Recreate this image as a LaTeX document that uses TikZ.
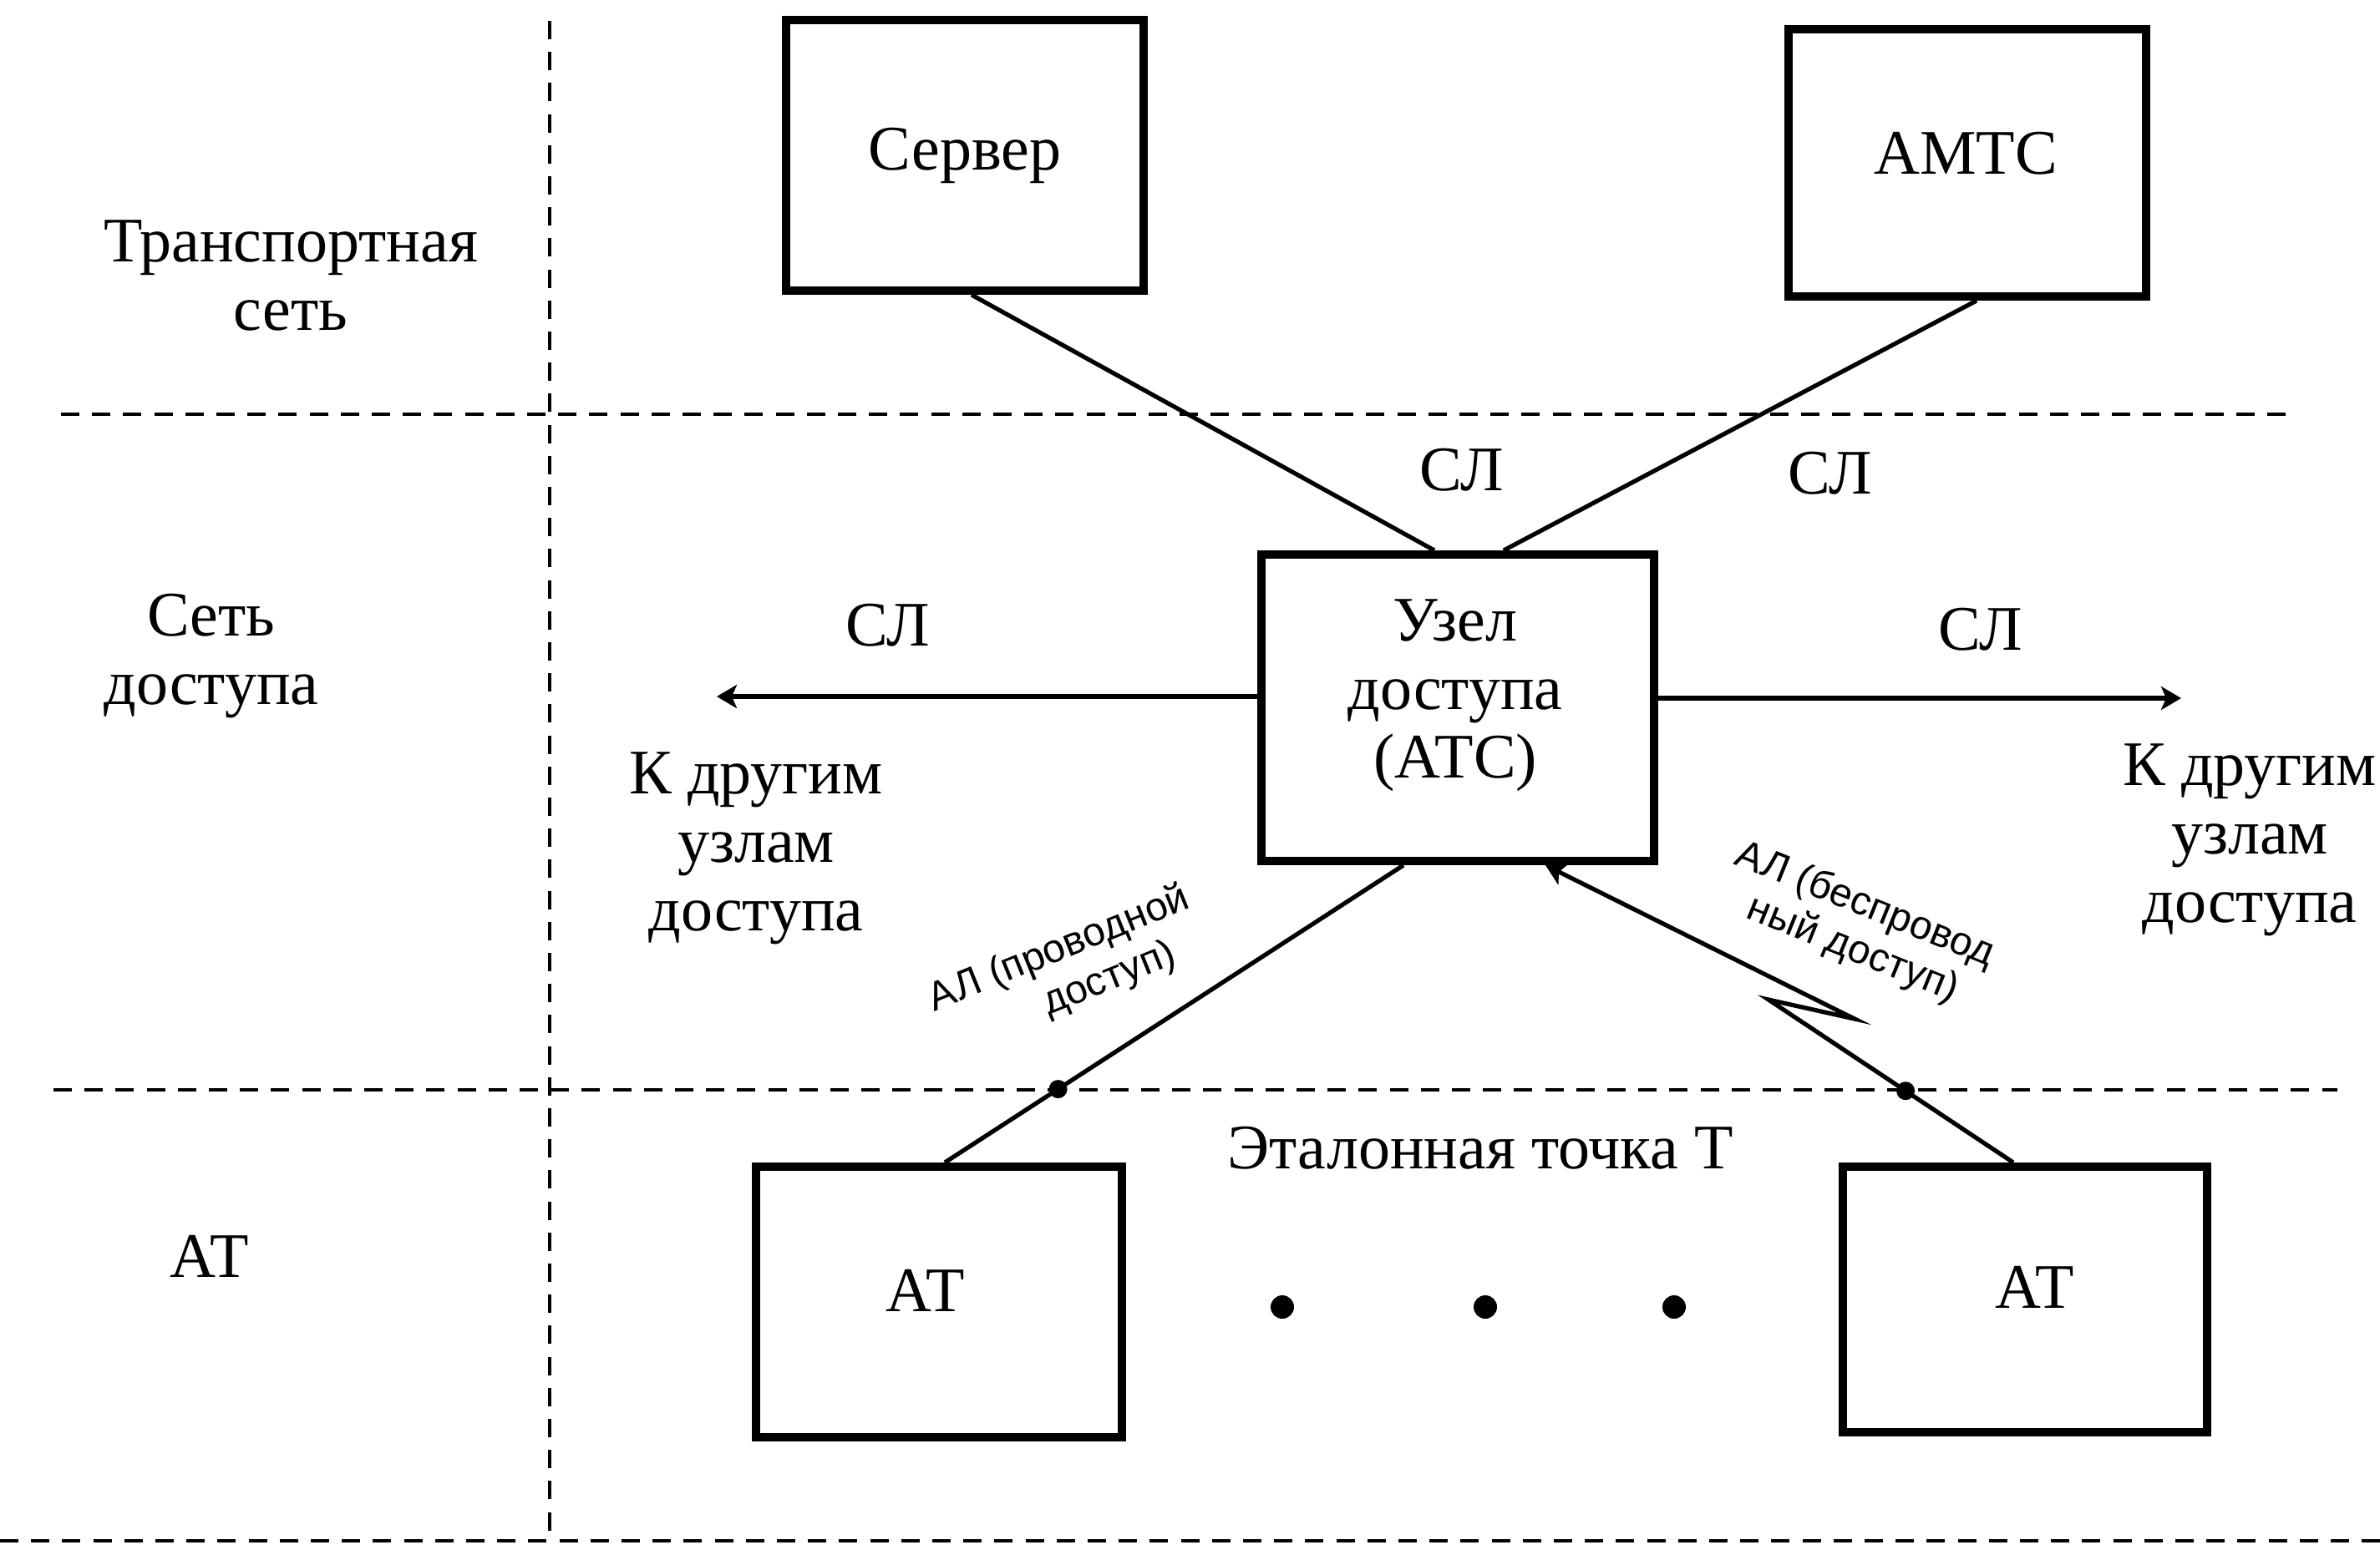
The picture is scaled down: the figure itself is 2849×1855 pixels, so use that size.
\documentclass[tikz,border=0pt]{standalone}
\usepackage{fontspec}
\setmainfont{Liberation Serif}
\newfontfamily\lsans{Liberation Sans}
\usetikzlibrary{arrows.meta,calc}
\begin{document}
\begin{tikzpicture}[x=0.25pt,y=-0.25pt,
  box/.style={draw,line width=2.5pt,inner sep=0pt,font=\fontsize{19}{21}\selectfont},
  lbl/.style={font=\fontsize{19}{20.5}\selectfont,align=center,inner sep=0pt},
  conn/.style={line width=1.3pt},
  sepline/.style={line width=1.1pt,dash pattern=on 5.5pt off 3.8pt},
  tipend/.style={-{Stealth[length=6pt,width=7pt,inset=1.5pt]}},
  tipstart/.style={{Stealth[length=6pt,width=7pt,inset=1.5pt]}-},
  jdot/.style={circle,fill,inner sep=0pt,minimum size=5.5pt},
  edot/.style={circle,fill,inner sep=0pt,minimum size=7pt},
  rl/.style={font=\lsans\fontsize{12}{13}\selectfont,inner sep=0pt}]
\useasboundingbox (0,0) rectangle (2849,1855);
% separators
\coordinate (vt) at (658,25);   \coordinate (vb) at (658,1835);
\coordinate (h1a) at (73,496);  \coordinate (h1b) at (2744,496);
\coordinate (h2a) at (64,1305); \coordinate (h2b) at (2798,1305);
\coordinate (h3a) at (0,1845);  \coordinate (h3b) at (2849,1845);
\draw[sepline] (vt) -- (vb);
\draw[sepline] (h1a) -- (h1b);
\draw[sepline] (h2a) -- (h2b);
\draw[sepline] (h3a) -- (h3b);
% layer labels
\node[lbl] (ltr) at (348,330) {Транспортная\\сеть};
\node[lbl] (lacc) at (253,786) {Сеть\\доступа};
\node[lbl] (lat) at (251,1504) {АТ};
% boxes
\node[box,minimum width=107pt,minimum height=81pt] (serv) at (1155,186) {Сервер};
\node[box,minimum width=107pt,minimum height=80pt] (amts) at (2355,195) {};
\node[lbl] (amtst) at (2353,184) {АМТС};
\node[box,minimum width=117.5pt,minimum height=91.75pt] (uzel) at (1745,847.5) {};
\node[lbl] (uzelt) at (1742,833) {Узел\\доступа\\(АТС)};
\node[box,minimum width=109.5pt,minimum height=81pt] (atl) at (1124,1559) {};
\node[lbl] (atlt) at (1108,1545) {АТ};
\node[box,minimum width=109pt,minimum height=79.5pt] (atr) at (2424,1556) {};
\node[lbl] (atrt) at (2436,1541) {АТ};
% upper links
\draw[conn] ($(serv.south)+(8,0)$) -- ($(uzel.north)+(-28,0)$);
\draw[conn] ($(amts.south)+(11,0)$) -- ($(uzel.north)+(55,0)$);
\node[lbl] (sl1) at (1750,563) {СЛ};
\node[lbl] (sl2) at (2191,567) {СЛ};
% side links
\coordinate (lend) at (858,834);
\coordinate (rend) at (2611,836);
\draw[conn,tipend] ($(uzel.west)+(0,-13.5)$) -- (lend);
\draw[conn,tipend] ($(uzel.east)+(0,-11.5)$) -- (rend);
\node[lbl] (sl3) at (1063,749) {СЛ};
\node[lbl] (sl4) at (2371,754) {СЛ};
\node[lbl] (kl) at (905,1016) {К другим\\узлам\\доступа};
\node[lbl] (kr) at (2693,1006) {К другим\\узлам\\доступа};
% access lines
\draw[conn] ($(uzel.south)+(-65,0)$) -- node[jdot,pos=0.753] (d1) {} ($(atl.north)+(7,0)$);
\coordinate (p1) at (2220,1220);
\coordinate (p2) at (2117,1197);
\draw[conn,tipstart] ($(uzel.south)+(105,0)$) -- (p1) -- (p2) -- node[jdot,pos=0.56] (d2) {} ($(atr.north)+(-14,0)$);
\node[rl,rotate=22] (wl1) at (1268,1137) {АЛ (проводной};
\node[rl,rotate=22] (wl2) at (1328,1173) {доступ)};
\node[rl,rotate=-22] (wr1) at (2232,1084) {АЛ (беспровод};
\node[rl,rotate=-22] (wr2) at (2218,1137) {ный доступ)};
% reference point
\node[lbl] (et) at (1772,1375) {Эталонная точка Т};
\node[edot] (e1) at (1535,1565) {};
\node[edot] (e2) at (1778,1565) {};
\node[edot] (e3) at (2004,1565) {};
\end{tikzpicture}
\end{document}
